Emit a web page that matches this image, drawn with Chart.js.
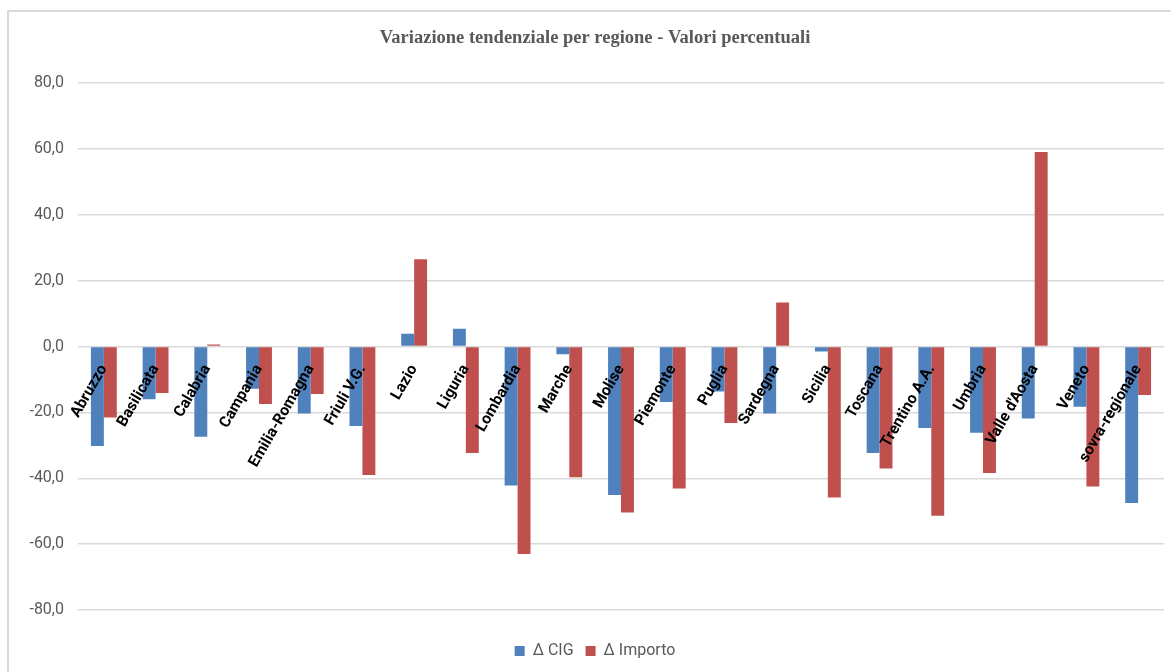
<!DOCTYPE html>
<html>
<head>
<meta charset="utf-8">
<script src="https://cdn.jsdelivr.net/npm/chart.js@4/dist/chart.umd.min.js"></script>
<style>
  html, body { margin: 0; padding: 0; background: #ffffff; overflow: hidden; }
  #frame { position: absolute; left: 7px; top: 10px; width: 1200px; height: 700px; border: 2px solid #D9D9D9; }
  #c { position: absolute; left: 0; top: 0; }
</style>
</head>
<body>
<div id="frame"></div>
<canvas id="c" width="1171" height="672"></canvas>
<script>
const titleText = 'Variazione tendenziale per regione - Valori percentuali';
const categories = ['Abruzzo','Basilicata','Calabria','Campania','Emilia-Romagna','Friuli V.G.','Lazio','Liguria','Lombardia','Marche','Molise','Piemonte','Puglia','Sardegna','Sicilia','Toscana','Trentino A.A.','Umbria',"Valle d'Aosta",'Veneto','sovra-regionale'];
const seriesNames = ['\u0394 CIG', '\u0394 Importo'];
const deltaCIG = [-30.2, -16.0, -27.4, -12.8, -20.3, -24.1, 3.9, 5.4, -42.2, -2.3, -45.1, -16.8, -13.6, -20.3, -1.5, -32.3, -24.7, -26.2, -21.8, -18.3, -47.5];
const deltaImporto = [-21.5, -14.1, 0.6, -17.4, -14.4, -39.0, 26.5, -32.3, -63.0, -39.7, -50.4, -43.1, -23.2, 13.4, -45.8, -37.0, -51.4, -38.4, 59.1, -42.5, -14.7];
const yMin = -80, yMax = 80, yStep = 20;

new Chart(document.getElementById('c'), {
  type: 'bar',
  data: {
    labels: categories,
    datasets: [
      { label: seriesNames[0], data: deltaCIG, backgroundColor: '#4F81BD', categoryPercentage: 0.5, barPercentage: 1.0 },
      { label: seriesNames[1], data: deltaImporto, backgroundColor: '#C0504D', categoryPercentage: 0.5, barPercentage: 1.0 }
    ]
  },
  options: {
    responsive: false,
    animation: false,
    layout: { padding: { left: 26, right: 7, top: 0, bottom: 3 } },
    plugins: {
      title: {
        display: true,
        text: titleText,
        color: '#595959',
        font: { family: '"Liberation Serif", serif', size: 18.5, weight: 'bold' },
        padding: { top: 27, bottom: 34 }
      },
      legend: {
        display: true,
        position: 'bottom',
        labels: {
          color: '#595959',
          font: { family: 'Roboto, "Open Sans", sans-serif', size: 16 },
          boxWidth: 10,
          boxHeight: 10,
          padding: 12
        }
      },
      tooltip: { enabled: false }
    },
    scales: {
      x: {
        type: 'category',
        position: { y: 0 },
        grid: { display: false, drawTicks: false },
        border: { display: false },
        ticks: {
          z: 1,
          autoSkip: false,
          minRotation: 60,
          maxRotation: 60,
          padding: 15,
          color: '#000000',
          font: { family: 'Roboto, "Open Sans", sans-serif', size: 15.5, weight: 'bold' }
        }
      },
      xSpace: {
        type: 'category',
        position: 'bottom',
        display: true,
        grid: { display: false, drawTicks: false },
        border: { display: false },
        ticks: { display: false },
        afterFit: (s) => { s.height = 21; }
      },
      y: {
        min: yMin,
        max: yMax,
        ticks: {
          stepSize: yStep,
          padding: 14,
          color: '#595959',
          font: { family: 'Roboto, "Open Sans", sans-serif', size: 16 },
          callback: (v) => Number(v).toFixed(1).replace('.', ',')
        },
        grid: { color: '#D9D9D9', lineWidth: 1.5, drawTicks: false },
        border: { display: false },
        afterFit: (s) => { s.width = 52; }
      }
    }
  }
});
</script>
</body>
</html>
